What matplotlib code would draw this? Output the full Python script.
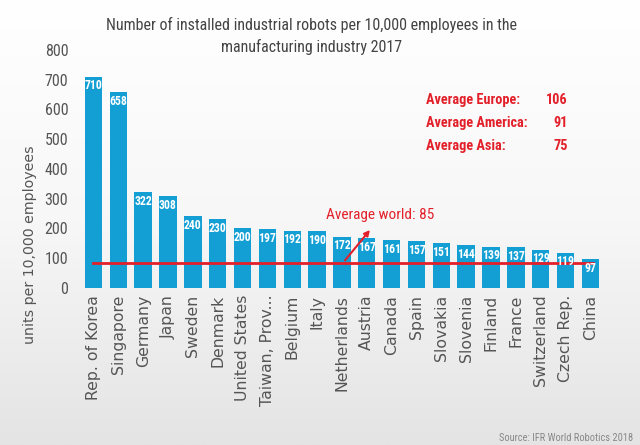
import numpy as np
from matplotlib import pyplot as plt
from matplotlib.colors import LinearSegmentedColormap

# data
countries = ['Rep. of Korea', 'Singapore', 'Germany', 'Japan', 'Sweden', 'Denmark',
             'United States', 'Taiwan, Prov...', 'Belgium', 'Italy', 'Netherlands',
             'Austria', 'Canada', 'Spain', 'Slovakia', 'Slovenia', 'Finland', 'France',
             'Switzerland', 'Czech Rep.', 'China']
values = [710, 658, 322, 308, 240, 230, 200, 197, 192, 190, 172,
          167, 161, 157, 151, 144, 139, 137, 129, 119, 97]
world_avg = 85
region_names = ['Average Europe:', 'Average America:', 'Average Asia:']
region_vals = [106, 91, 75]

cond = dict(family=['Roboto Condensed', 'DejaVu Sans'], stretch='condensed')
bar_col = '#139fd4'
red = '#e3202a'
grey = '#555555'

fig = plt.figure(figsize=(6.4, 4.45), dpi=100)

# light background gradient (white at top, light grey at bottom)
bg = fig.add_axes([0, 0, 1, 1], zorder=-10)
cm = LinearSegmentedColormap.from_list('bg', ['#ffffff', '#f7f7f7', '#e4e4e4'])
grad = np.linspace(0, 1, 200).reshape(-1, 1)
bg.imshow(grad, aspect='auto', cmap=cm, extent=[0, 1, 0, 1], origin='upper')
bg.axis('off')

ax = fig.add_axes([0.122, 0.353, 0.823, 0.535])
ax.patch.set_alpha(0)
x = np.arange(len(countries))
ax.bar(x, values, width=0.7, color=bar_col, zorder=2)
for xi, v in zip(x, values):
    ax.text(xi, v - 9, str(v), ha='center', va='top', color='white',
            fontsize=8.5, fontweight='bold', zorder=4, **cond)

# world average line + callout
ax.plot([0, len(countries) - 1 + 0.1], [world_avg, world_avg], color=red, lw=2, zorder=3)
ax.annotate('', xy=(11.2, 202), xytext=(10.05, world_avg),
            arrowprops=dict(arrowstyle='-|>', color=red, lw=1.5, mutation_scale=8), zorder=5)
ax.text(9.36, 222, 'Average world: %d' % world_avg, color=red, fontsize=11,
        ha='left', va='bottom', **cond)

# regional averages
for i, (n, v) in enumerate(zip(region_names, region_vals)):
    yy = 633 - i * 78
    ax.text(13.4, yy, n, color=red, fontsize=10.3, fontweight='bold',
            va='center', ha='left', **cond)
    ax.text(19.1, yy, str(v), color=red, fontsize=10.3, fontweight='bold',
            va='center', ha='right', **cond)

ax.set_xlim(-0.62, len(countries) - 1 + 0.58)
ax.set_ylim(0, 800)
ax.set_yticks(range(0, 801, 100))
ax.tick_params(axis='y', length=0, labelsize=11.5, labelcolor=grey, pad=7)
ax.tick_params(axis='x', length=0, pad=5)
ax.set_xticks(x)
ax.set_xticklabels(countries, rotation=90, fontsize=11.3, color=grey)
for lab in ax.get_yticklabels():
    lab.set_fontstretch('condensed')
    lab.set_family(['Roboto Condensed', 'DejaVu Sans'])
for s in ax.spines.values():
    s.set_visible(False)
fig.text(0.047, 0.45, 'units per 10,000 employees', rotation=90, fontsize=10.2,
         color=grey, ha='center', va='center')

fig.text(0.4875, 0.92, 'Number of installed industrial robots per 10,000 employees in the\nmanufacturing industry 2017',
         ha='center', va='center', fontsize=11.5, color='#444444', linespacing=1.45, **cond)
fig.text(0.99, 0.005, 'Source: IFR World Robotics 2018', ha='right', va='bottom',
         fontsize=7.5, color='#888888', **cond)

fig.savefig('out.png', dpi=100)
